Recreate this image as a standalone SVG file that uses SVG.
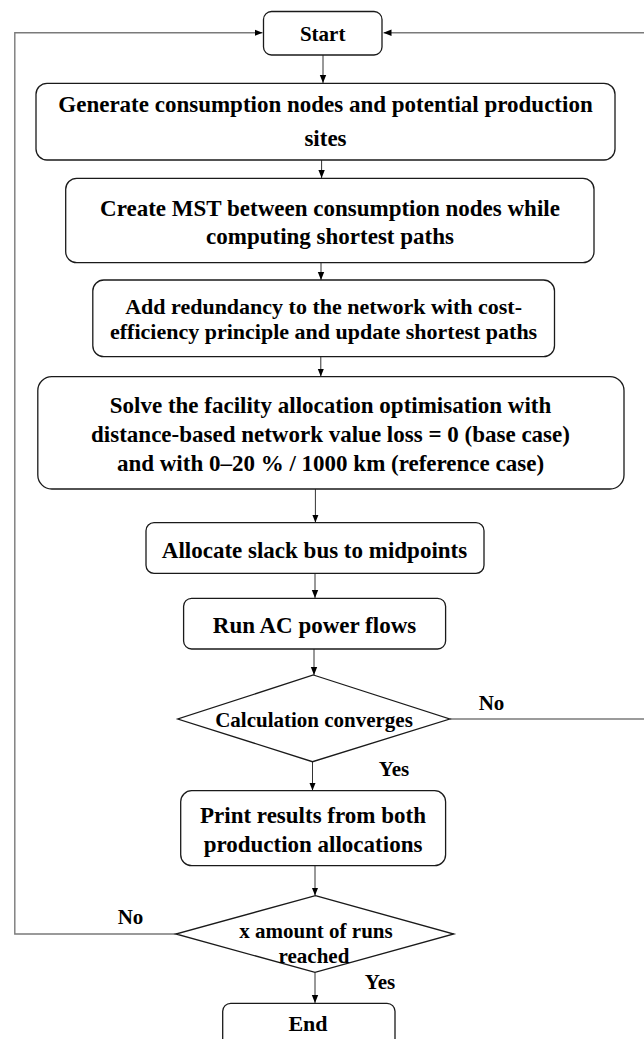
<svg xmlns="http://www.w3.org/2000/svg" width="644" height="1039" viewBox="0 0 644 1039">
<defs>
<style>
.box{fill:#fff;stroke:#1a1a1a;stroke-width:1.3}
.t{font-family:"Liberation Serif","Times New Roman",serif;font-weight:bold;font-size:21px;fill:#000;text-anchor:middle;dominant-baseline:central}
.b{font-size:23px}
.m{font-size:22px}
.c{fill:none;stroke:#333;stroke-width:1}
.loop{fill:none;stroke:#7a7a7a;stroke-width:1.4}
</style>
<marker id="ah" viewBox="0 0 8 8" refX="8" refY="4" markerWidth="8" markerHeight="8" markerUnits="userSpaceOnUse" orient="auto">
<path d="M0,0.8 L8,4 L0,7.2 Z" fill="#000"/>
</marker>
</defs>
<rect width="644" height="1039" fill="#fff"/>
<g id="connectors">
<path class="loop" d="M175.8,934 H14.8 V32.7 H262.5" marker-end="url(#ah)"/>
<path class="loop" d="M449.7,719 H644"/>
<path class="loop" d="M644,32.7 H383.5" marker-end="url(#ah)"/>
<path class="c" d="M323,55 V83" marker-end="url(#ah)"/>
<path class="c" d="M321.6,160 V178" marker-end="url(#ah)"/>
<path class="c" d="M321,263 V280" marker-end="url(#ah)"/>
<path class="c" d="M320.8,357 V376.5" marker-end="url(#ah)"/>
<path class="c" d="M315.4,489 V522.5" marker-end="url(#ah)"/>
<path class="c" d="M315,573.5 V598" marker-end="url(#ah)"/>
<path class="c" d="M314,649 V675" marker-end="url(#ah)"/>
<path class="c" d="M312.5,762 V790.5" marker-end="url(#ah)"/>
<path class="c" d="M315,866 V895.5" marker-end="url(#ah)"/>
<path class="c" d="M315,972.5 V1003" marker-end="url(#ah)"/>
</g>
<g id="start">
<rect class="box" x="263.5" y="11.5" width="118.5" height="43.5" rx="8"/>
<text class="t" x="322.7" y="33.5">Start</text>
</g>
<g id="generate">
<rect class="box" x="36" y="83.3" width="579" height="76.7" rx="11"/>
<text class="t b" x="325.5" y="104">Generate consumption nodes and potential production</text>
<text class="t b" x="325.5" y="138">sites</text>
</g>
<g id="mst">
<rect class="box" x="65.7" y="178.3" width="528.3" height="84.4" rx="11"/>
<text class="t b" x="330" y="208">Create MST between consumption nodes while</text>
<text class="t b" x="330" y="236.7">computing shortest paths</text>
</g>
<g id="redundancy">
<rect class="box" x="92.8" y="280" width="461.7" height="76.7" rx="11"/>
<text class="t m" x="323.6" y="306.5">Add redundancy to the network with cost-</text>
<text class="t m" x="323.6" y="331.5">efficiency principle and update shortest paths</text>
</g>
<g id="solve">
<rect class="box" x="37.8" y="376.7" width="586.2" height="112.3" rx="14"/>
<text class="t b" x="330.5" y="405">Solve the facility allocation optimisation with</text>
<text class="t b" x="330.5" y="434">distance-based network value loss = 0 (base case)</text>
<text class="t b" x="330.5" y="463">and with 0–20 % / 1000 km (reference case)</text>
</g>
<g id="slack">
<rect class="box" x="146" y="522.7" width="338" height="50.6" rx="8"/>
<text class="t b" x="314.5" y="550">Allocate slack bus to midpoints</text>
</g>
<g id="acflow">
<rect class="box" x="183.6" y="598.3" width="262" height="50.7" rx="8"/>
<text class="t b" x="314.5" y="625">Run AC power flows</text>
</g>
<g id="converge">
<polygon class="box" points="313.4,675 449.7,719 312.5,761.7 177.8,719"/>
<text class="t" x="314" y="720">Calculation converges</text>
<text class="t" x="491.5" y="703">No</text>
<text class="t" x="394" y="769">Yes</text>
</g>
<g id="print">
<rect class="box" x="180.7" y="790.7" width="264.9" height="75" rx="11"/>
<text class="t b" x="313" y="815">Print results from both</text>
<text class="t b" x="313" y="844">production allocations</text>
</g>
<g id="runs">
<polygon class="box" points="315.4,895.7 453.8,934 315,972.3 175.8,934"/>
<text class="t" x="316" y="930.7">x amount of runs</text>
<text class="t" x="314" y="955.7">reached</text>
<text class="t" x="130.5" y="917">No</text>
<text class="t" x="380" y="982">Yes</text>
</g>
<g id="end">
<rect class="box" x="222.7" y="1003.3" width="172.3" height="50" rx="8"/>
<text class="t m" x="308" y="1023">End</text>
</g>
</svg>
